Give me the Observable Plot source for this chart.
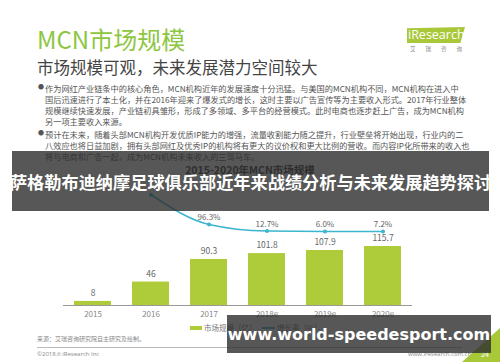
<!DOCTYPE html>
<html><head><meta charset="utf-8">
<script src="https://cdn.jsdelivr.net/npm/d3@7"></script>
<script src="https://cdn.jsdelivr.net/npm/@observablehq/plot@0.6"></script>
<style>
body{margin:0;background:#fff;}
#page{position:relative;width:500px;height:362px;overflow:hidden;background:#fff;font-family:"Noto Sans CJK SC","Noto Sans",sans-serif;}
.abs{position:absolute;white-space:nowrap;line-height:1;}
.body{font-size:8.2px;color:#555;left:45px;}
#chart{position:absolute;left:0;top:170px;}
.banner{position:absolute;background:rgba(45,45,45,0.8);color:#fff;font-weight:bold;white-space:nowrap;display:flex;align-items:center;justify-content:center;}
</style></head><body>
<div id="page">
  <div class="abs" style="left:37px;top:27px;font-size:24px;color:#8dc63f;">MCN市场规模</div>
  <div class="abs" style="left:37px;top:59px;font-size:16.5px;color:#444;">市场规模可观，未来发展潜力空间较大</div>
  <div class="abs" style="left:407px;top:27px;width:58px;height:16px;background:#a8c83a;clip-path:polygon(0 8%,100% 0,92% 100%,0 100%);"></div>
  <div class="abs" style="left:408px;top:29px;font-size:12.5px;color:#fff;font-family:'Open Sans',sans-serif;">iResearch</div>
  <div class="abs" style="left:410px;top:47px;font-size:5.5px;color:#888;letter-spacing:10px;">艾瑞咨询</div>

  <div class="abs" style="left:38px;top:84px;font-size:6px;color:#555;">●</div>
  <div class="abs body" style="top:84px;">作为网红产业链条中的核心角色，MCN机构近年的发展速度十分迅猛。与美国的MCN机构不同，MCN机构在进入中</div>
  <div class="abs body" style="top:95px;">国后迅速进行了本土化，并在2016年迎来了爆发式的增长，这时主要以广告宣传等为主要收入形式。2017年行业整体</div>
  <div class="abs body" style="top:106px;">规模继续快速发展，产业链初具雏形，形成了多领域、多平台的经营模式。此时电商也逐步赶上广告，成为MCN机构</div>
  <div class="abs body" style="top:117px;">另一项主要收入来源。</div>
  <div class="abs" style="left:38px;top:130px;font-size:6px;color:#555;">●</div>
  <div class="abs body" style="top:130px;">预计在未来，随着头部MCN机构开发优质IP能力的增强，流量收割能力随之提升，行业壁垒将开始出现，行业内的二</div>
  <div class="abs body" style="top:141px;">八效应也将日益加剧，拥有头部网红及优秀IP的机构将有更大的议价权和更大比例的营收。而内容IP化所带来的收入也</div>
  <div class="abs body" style="top:152px;">将与电商和广告一起，成为MCN机构未来收入的三驾马车。</div>

  <div class="abs" style="left:0;width:500px;text-align:center;top:165px;font-size:10.5px;font-weight:bold;color:#333;">2015-2020年MCN市场规模</div>

  <div id="chart"></div>

  <div class="abs" style="left:190px;top:326px;width:12px;height:4px;background:#aecb3a;"></div>
  <div class="abs" style="left:204px;top:324px;font-size:7.5px;color:#777;">市场规模（亿）</div>
  <div class="abs" style="left:262px;top:327px;width:13px;height:1.5px;background:#3cb6cf;"></div>
  <div class="abs" style="left:277px;top:324px;font-size:7.5px;color:#777;">增长率（%）</div>

  <div class="abs" style="left:37px;top:336px;font-size:6px;color:#888;">来源：艾瑞咨询研究院自主研究及绘制。</div>
  <div class="abs" style="left:37px;top:347px;width:425px;height:1px;background:#bbb;"></div>
  <div class="abs" style="left:37px;top:351px;font-size:6px;color:#888;font-family:'Open Sans',sans-serif;">©2018.6 iResearch Inc</div>
  <div class="abs" style="left:408px;top:351px;font-size:6px;color:#888;font-family:'Open Sans',sans-serif;">www.iresearch.com.cn</div>
  <div class="abs" style="left:462px;top:328px;width:38px;height:34px;background:#a8c83a;clip-path:polygon(100% 0,100% 100%,0 100%);"></div>
  <div class="abs" style="left:481px;top:351px;font-size:7px;color:#fff;">24</div>

  <div class="banner" style="left:12px;top:151px;width:477px;height:60px;font-size:17.2px;">萨格勒布迪纳摩足球俱乐部近年来战绩分析与未来发展趋势探讨</div>
  <div class="banner" style="left:227px;top:315px;width:264px;height:38px;font-size:16px;font-family:'DejaVu Sans',sans-serif;">www.world-speedesport.com</div>
</div>
<script>
const years = ["2015", "2016", "2017", "2018e", "2019e", "2020e"];
const marketSize = [8, 46, 90.3, 101.8, 107.9, 115.7];
const growthYears = ["2016", "2017", "2018e", "2019e", "2020e"];
const growthRate = [475.0, 96.3, 12.7, 6.0, 7.2];
// labels visible on the slide (the 2016 one is hidden under the banner)
const growthLabelYears = ["2017", "2018e", "2019e", "2020e"];

// secondary-axis mapping of growth rate onto the bar scale
const GROWTH_BASE = 144, GROWTH_K = 0.154;
const bars = years.map((y, i) => ({year: y, value: marketSize[i]}));
const growth = growthYears.map((y, i) => ({year: y, rate: growthRate[i], pos: GROWTH_BASE + GROWTH_K * growthRate[i]}));
const growthLabeled = growth.filter(d => growthLabelYears.includes(d.year));

const chart = Plot.plot({
  width: 500, height: 152,
  marginTop: 0, marginBottom: 17, marginLeft: 63, marginRight: 88,
  x: {domain: years, paddingInner: 0.36, paddingOuter: 0.18, label: null, tickSize: 0, tickPadding: 6},
  y: {domain: [0, 264.7], axis: null},
  style: {fontFamily: "'Noto Sans CJK SC', sans-serif", fontSize: "8px", color: "#888", background: "transparent", overflow: "visible"},
  marks: [
    Plot.barY(bars, {x: "year", y: "value", fill: "#aecb3a"}),
    Plot.ruleY([0], {stroke: "#999", strokeWidth: 1}),
    Plot.text(bars, {x: "year", y: "value", text: d => String(d.value), dy: -8, fill: "#666", fontSize: 8.5}),
    Plot.line(growth, {x: "year", y: "pos", stroke: "#3cb6cf", strokeWidth: 1.5, curve: "monotone-x"}),
    Plot.dot(growth, {x: "year", y: "pos", r: 2, fill: "#3cb6cf"}),
    Plot.text(growthLabeled, {x: "year", y: "pos", text: d => d.rate.toFixed(1) + "%", dy: -7, fill: "#666", fontSize: 8})
  ]
});
document.getElementById("chart").appendChild(chart);
</script>
</body></html>
